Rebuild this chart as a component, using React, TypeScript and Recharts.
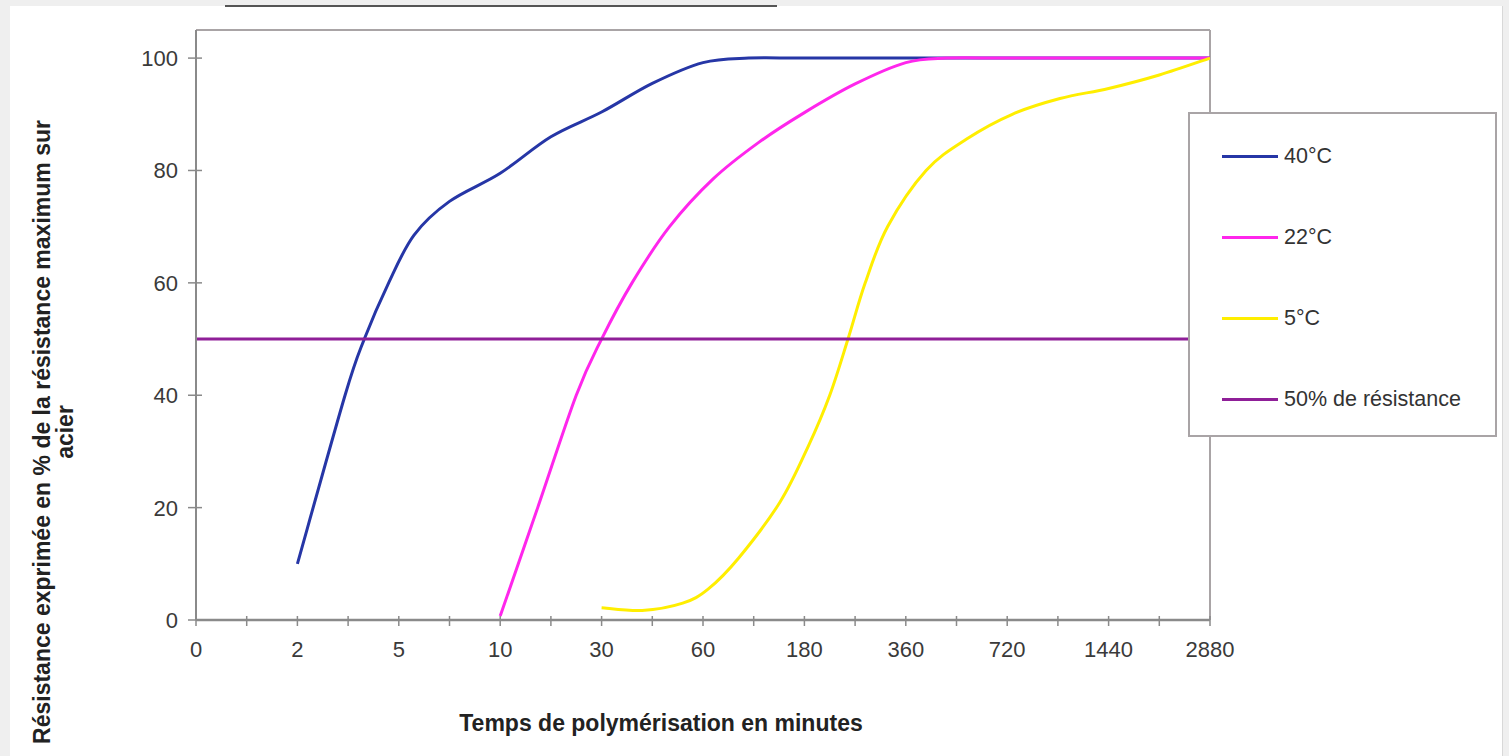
import React from 'react';
import {
  LineChart,
  Line,
  XAxis,
  YAxis,
  ReferenceLine,
  Label,
} from 'recharts';

// x axis is a category axis: a point's "pos" is its place between the labels
const categories = ['0', '2', '5', '10', '30', '60', '180', '360', '720', '1440', '2880'];
const yTicks = [0, 20, 40, 60, 80, 100];

const serie40 = [
  { pos: 1, value: 10 },
  { pos: 1.47, value: 40 },
  { pos: 1.66, value: 50 },
  { pos: 1.9, value: 60 },
  { pos: 2.15, value: 68.5 },
  { pos: 2.5, value: 74.5 },
  { pos: 3, value: 79.5 },
  { pos: 3.5, value: 86 },
  { pos: 4, value: 90.4 },
  { pos: 4.5, value: 95.5 },
  { pos: 5, value: 99.2 },
  { pos: 5.45, value: 100 },
  { pos: 6, value: 100 },
  { pos: 7, value: 100 },
  { pos: 8, value: 100 },
  { pos: 9, value: 100 },
  { pos: 10, value: 100 },
];

const serie22 = [
  { pos: 3, value: 0.7 },
  { pos: 3.37, value: 20 },
  { pos: 3.75, value: 40 },
  { pos: 4, value: 50 },
  { pos: 4.3, value: 60 },
  { pos: 4.67, value: 70 },
  { pos: 5.1, value: 78.5 },
  { pos: 5.55, value: 85 },
  { pos: 6, value: 90.3 },
  { pos: 6.5, value: 95.4 },
  { pos: 7, value: 99.2 },
  { pos: 7.4, value: 100 },
  { pos: 8, value: 100 },
  { pos: 9, value: 100 },
  { pos: 10, value: 100 },
];

const serie5 = [
  { pos: 4, value: 2.2 },
  { pos: 4.4, value: 1.7 },
  { pos: 4.8, value: 3 },
  { pos: 5.05, value: 5.5 },
  { pos: 5.35, value: 11 },
  { pos: 5.76, value: 21 },
  { pos: 6.04, value: 31 },
  { pos: 6.25, value: 40 },
  { pos: 6.43, value: 50 },
  { pos: 6.6, value: 60 },
  { pos: 6.82, value: 70 },
  { pos: 7.2, value: 80 },
  { pos: 7.6, value: 85.6 },
  { pos: 8.05, value: 90 },
  { pos: 8.52, value: 92.8 },
  { pos: 9, value: 94.6 },
  { pos: 9.5, value: 97 },
  { pos: 10, value: 100 },
];

const seuil50 = [
  { pos: 0, value: 50 },
  { pos: 10, value: 50 },
];

const series = [
  { name: '40°C', data: serie40, color: '#2636a6' },
  { name: '22°C', data: serie22, color: '#ff26ec' },
  { name: '5°C', data: serie5, color: '#ffee00' },
  { name: '50% de résistance', data: seuil50, color: '#8f1f98' },
];

// major ticks on each category, minor ticks halfway between
const xTicks = categories.flatMap((_, i) => (i < categories.length - 1 ? [i, i + 0.5] : [i]));

const FONT = '"Liberation Sans", Arial, sans-serif';
const AXIS = '#8a8a8a';

// Excel-like smoothed line (Catmull-Rom through the points)
const smoothCurve = (context: any) => {
  let pts: number[][] = [];
  return {
    areaStart() {},
    areaEnd() {},
    lineStart() {
      pts = [];
    },
    point(x: number, y: number) {
      pts.push([+x, +y]);
    },
    lineEnd() {
      if (!pts.length) return;
      context.moveTo(pts[0][0], pts[0][1]);
      for (let i = 0; i < pts.length - 1; i++) {
        const p0 = pts[i - 1] || pts[i];
        const p1 = pts[i];
        const p2 = pts[i + 1];
        const p3 = pts[i + 2] || p2;
        context.bezierCurveTo(
          p1[0] + (p2[0] - p0[0]) / 6,
          p1[1] + (p2[1] - p0[1]) / 6,
          p2[0] - (p3[0] - p1[0]) / 6,
          p2[1] - (p3[1] - p1[1]) / 6,
          p2[0],
          p2[1],
        );
      }
    },
  };
};

const XTick = ({ x, y, payload }: any) => {
  const v = payload.value;
  const label = Number.isInteger(v) ? categories[v] : '';
  return (
    <g>
      <line x1={x} x2={x} y1={y - 4} y2={y + 6} stroke={AXIS} strokeWidth={1.5} />
      {label && (
        <text x={x} y={y + 37} textAnchor="middle" fontSize={22} fill="#3a3a3a" fontFamily={FONT}>
          {label}
        </text>
      )}
    </g>
  );
};

const YTick = ({ x, y, payload }: any) => (
  <g>
    <line x1={x - 8} x2={x + 6} y1={y} y2={y} stroke={AXIS} strokeWidth={1.5} />
    <text x={x - 18} y={y} dy="0.36em" textAnchor="end" fontSize={22} fill="#3a3a3a" fontFamily={FONT}>
      {payload.value}
    </text>
  </g>
);

const YTitle = () => (
  <text transform="rotate(-90)" textAnchor="middle" fontSize={23} fontWeight="bold" fill="#222" fontFamily={FONT}>
    <tspan x={-432} y={50}>Résistance exprimée en % de la résistance maximum sur</tspan>
    <tspan x={-432} y={73}>acier</tspan>
  </text>
);

const LegendBox = () => (
  <div
    style={{
      position: 'absolute',
      left: 1188,
      top: 112,
      width: 305,
      height: 321,
      background: '#fff',
      border: '2px solid #a9a4a6',
      fontFamily: FONT,
    }}
  >
    {series.map((s, i) => (
      <div
        key={s.name}
        style={{ position: 'absolute', left: 32, top: 28 + i * 81, height: 28, display: 'flex', alignItems: 'center' }}
      >
        <span style={{ display: 'inline-block', width: 56, height: 3, background: s.color }} />
        <span style={{ marginLeft: 6, fontSize: 21.5, color: '#333' }}>{s.name}</span>
      </div>
    ))}
  </div>
);

export default function App() {
  return (
    <div style={{ position: 'fixed', left: 0, top: 0, width: 1509, height: 756, background: '#efefef', overflow: 'hidden' }}>
      <div style={{ position: 'absolute', left: 10, top: 6, width: 1492, height: 760, background: '#fff', borderRight: '1px solid #d8d8d8' }} />
      <div style={{ position: 'absolute', left: 225, top: 5, width: 552, height: 2, background: '#555' }} />
      <div style={{ position: 'absolute', left: 0, top: 0 }}>
        <LineChart
          width={1509}
          height={756}
          margin={{ top: 30, right: 299, bottom: 135, left: 126 }}
        >
          <XAxis
            dataKey="pos"
            type="number"
            domain={[0, 10]}
            ticks={xTicks}
            interval={0}
            height={1}
            tickSize={0}
            tickMargin={0}
            tickLine={false}
            axisLine={{ stroke: AXIS, strokeWidth: 2.5 }}
            tick={<XTick />}
            allowDataOverflow
          />
          <YAxis
            type="number"
            domain={[0, 105]}
            ticks={yTicks}
            width={70}
            tickSize={0}
            tickMargin={0}
            tickLine={false}
            axisLine={{ stroke: AXIS, strokeWidth: 2 }}
            tick={<YTick />}
          >
            <Label content={<YTitle />} />
          </YAxis>
          <ReferenceLine y={105} stroke="#a9a4a6" strokeWidth={2} />
          <ReferenceLine x={10} stroke="#a9a4a6" strokeWidth={2} />
          {series.map((s) => (
            <Line
              key={s.name}
              data={s.data}
              dataKey="value"
              name={s.name}
              type={smoothCurve as any}
              stroke={s.color}
              strokeWidth={3}
              dot={false}
              activeDot={false}
              isAnimationActive={false}
            />
          ))}
          <text x={661} y={731} textAnchor="middle" fontSize={23} fontWeight="bold" fill="#222" fontFamily={FONT}>
            Temps de polymérisation en minutes
          </text>
        </LineChart>
      </div>
      <LegendBox />
    </div>
  );
}
